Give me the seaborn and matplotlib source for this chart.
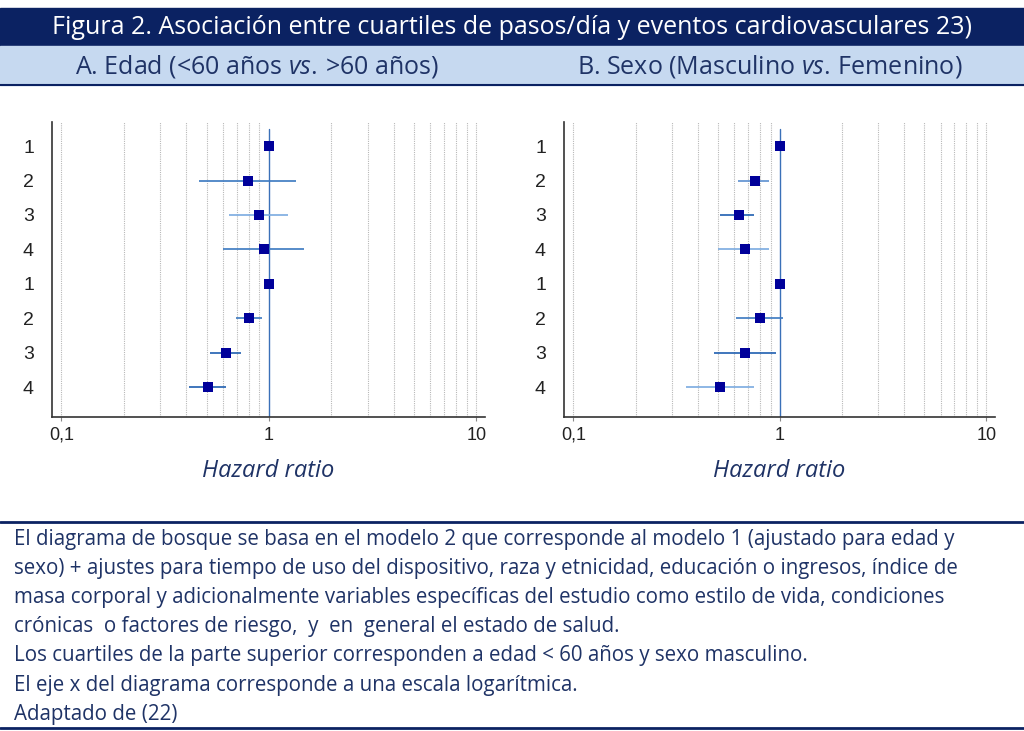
import numpy as np
import pandas as pd
import matplotlib
matplotlib.use("Agg")
import matplotlib.pyplot as plt
import seaborn as sns
from matplotlib.patches import Rectangle
from matplotlib.lines import Line2D
from matplotlib.ticker import FixedLocator, NullFormatter

# Data
quartiles = ["1", "2", "3", "4", "1", "2", "3", "4"]

edad_hr = [1.00, 0.79, 0.90, 0.95, 1.00, 0.80, 0.62, 0.51]
edad_lo = [1.00, 0.46, 0.64, 0.60, 1.00, 0.69, 0.52, 0.41]
edad_hi = [1.00, 1.35, 1.23, 1.48, 1.00, 0.93, 0.73, 0.62]

sexo_hr = [1.00, 0.76, 0.63, 0.68, 1.00, 0.80, 0.68, 0.51]
sexo_lo = [1.00, 0.625, 0.515, 0.50, 1.00, 0.615, 0.48, 0.35]
sexo_hi = [1.00, 0.89, 0.75, 0.885, 1.00, 1.04, 0.96, 0.75]

titulo = "Figura 2. Asociación entre cuartiles de pasos/día y eventos cardiovasculares 23)"
nota = [
    "El diagrama de bosque se basa en el modelo 2 que corresponde al modelo 1 (ajustado para edad y",
    "sexo) + ajustes para tiempo de uso del dispositivo, raza y etnicidad, educación o ingresos, índice de",
    "masa corporal y adicionalmente variables específicas del estudio como estilo de vida, condiciones",
    "crónicas  o factores de riesgo,  y  en  general el estado de salud.",
    "Los cuartiles de la parte superior corresponden a edad < 60 años y sexo masculino.",
    "El eje x del diagrama corresponde a una escala logarítmica.",
    "Adaptado de (22)",
]

# styles
NAVY = "#0b2262"
TXT = "#1f3366"
LIGHT = "#c6d9f0"
MARK = "#00009a"
ci_left = ["#3a78c0", "#3a78c0", "#7aaae0", "#3a78c0", "#3a78c0", "#3a78c0", "#1f5fb0", "#1f5fb0"]
ci_right = ["#3a78c0", "#5b8fd0", "#1f5fb0", "#7aaae0", "#3a78c0", "#3a78c0", "#1f5fb0", "#7aaae0"]

sns.set_theme(style="white")
plt.rcParams["font.family"] = ["Open Sans", "DejaVu Sans"]
plt.rcParams["mathtext.fontset"] = "custom"
plt.rcParams["mathtext.rm"] = "Open Sans"
plt.rcParams["mathtext.it"] = "Open Sans:italic"

fig = plt.figure(figsize=(10.24, 7.31), dpi=100)
W, H = 1024, 731


def fx(px):
    return px / W


def fy(py):
    return 1 - py / H


# header bands
fig.patches.append(Rectangle((0, fy(46)), 1, 38 / H, transform=fig.transFigure,
                             color=NAVY, zorder=0))
fig.patches.append(Rectangle((0, fy(85)), 1, 39 / H, transform=fig.transFigure,
                             color=LIGHT, zorder=0))
fig.lines.append(Line2D([0, 1], [fy(85), fy(85)], transform=fig.transFigure,
                        color=NAVY, lw=1.5))
fig.text(0.5, fy(27), titulo, color="white", ha="center", va="center", fontsize=18)
fig.text(fx(257), fy(66), "A. Edad (<60 años $\\it{vs.}\\,$>60 años)", color=TXT,
         ha="center", va="center", fontsize=18)
fig.text(fx(770), fy(66), "B. Sexo (Masculino $\\it{vs.}\\,$Femenino)", color=TXT,
         ha="center", va="center", fontsize=18)

# panels
panels = [
    (edad_hr, edad_lo, edad_hi, ci_left, (52, 485)),
    (sexo_hr, sexo_lo, sexo_hi, ci_right, (564, 995)),
]
for hr, lo, hi, cols, (x0, x1) in panels:
    ax = fig.add_axes([fx(x0), fy(417), fx(x1 - x0), (417 - 122) / H])
    df = pd.DataFrame({"pos": np.arange(len(quartiles)), "hr": hr, "lo": lo, "hi": hi})
    ax.set_xscale("log")
    ax.set_xlim(0.09, 11)
    ax.set_ylim(7.87, -0.7)

    minor = [v * d for d in (0.1, 1) for v in range(2, 10)]
    for g in [0.1, 10] + minor:
        ax.axvline(g, color="#b8b8b8", lw=0.8, ls=(0, (1, 1)), zorder=0)
    ax.plot([1, 1], [-0.5, 7.87], color="#3a70b8", lw=1, zorder=1)

    ax.hlines(df["pos"], df["lo"], df["hi"], colors=cols, lw=1.2, zorder=2)
    sns.scatterplot(data=df, x="hr", y="pos", marker="s", s=60, color=MARK,
                    edgecolor=MARK, linewidth=0, ax=ax, zorder=3)

    ax.set_yticks(df["pos"])
    ax.set_yticklabels(quartiles, family="Liberation Sans", fontsize=14, color="#222222")
    ax.tick_params(axis="y", length=0, pad=13)
    ax.xaxis.set_major_locator(FixedLocator([0.1, 1, 10]))
    ax.xaxis.set_minor_locator(FixedLocator(minor))
    ax.xaxis.set_minor_formatter(NullFormatter())
    ax.set_xticklabels(["0,1", "1", "10"], family="Liberation Sans", fontsize=13,
                       color="#222222")
    ax.tick_params(axis="x", which="major", length=3, width=0.8, color="#888888", pad=4,
                   bottom=True)
    ax.tick_params(axis="x", which="minor", length=0)
    for s in ["top", "right"]:
        ax.spines[s].set_visible(False)
    for s in ["left", "bottom"]:
        ax.spines[s].set_color("#333333")
        ax.spines[s].set_linewidth(1.2)
    ax.set_xlabel("Hazard ratio", fontsize=17, style="italic", color=TXT, labelpad=11)
    ax.set_ylabel("")

# footnote
fig.lines.append(Line2D([0, 1], [fy(522), fy(522)], transform=fig.transFigure,
                        color=NAVY, lw=2))
fig.lines.append(Line2D([0, 1], [fy(728), fy(728)], transform=fig.transFigure,
                        color=NAVY, lw=2))
for i, line in enumerate(nota):
    fig.text(fx(14), fy(539 + i * 29.2), line, color=TXT, ha="left", va="center",
             fontsize=14.8)

fig.savefig("out.png", dpi=100)
